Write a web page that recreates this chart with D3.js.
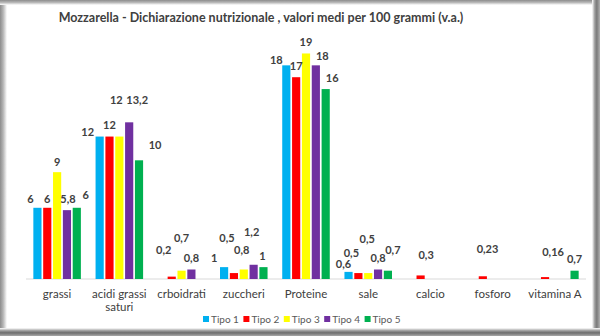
<!DOCTYPE html>
<html>
<head>
<meta charset="utf-8">
<script src="https://cdn.jsdelivr.net/npm/d3@7/dist/d3.min.js"></script>
<style>
  html, body { margin: 0; padding: 0; background: #fff; }
  svg { display: block; }
</style>
</head>
<body>
<svg id="chart" width="600" height="336"></svg>
<script>
// Nutrient categories (x axis)
const categories = ["grassi", "acidi grassi saturi", "crboidrati", "zuccheri", "Proteine",
                    "sale", "calcio", "fosforo", "vitamina A"];
const seriesNames = ["Tipo 1", "Tipo 2", "Tipo 3", "Tipo 4", "Tipo 5"];

// Values per 100 g, one array per type (null = not declared)
const tipo1 = [6, 12, null, 1, 18, 0.6, null, null, null];
const tipo2 = [6, 12, 0.2, 0.5, 17, 0.5, 0.3, 0.23, 0.16];
const tipo3 = [9, 12, 0.7, 0.8, 19, 0.5, null, null, null];
const tipo4 = [5.8, 13.2, 0.8, 1.2, 18, 0.8, null, null, null];
const tipo5 = [6, 10, null, 1, 16, 0.7, null, null, 0.7];
const seriesValues = [tipo1, tipo2, tipo3, tipo4, tipo5];

const colors = ["#00B0F0", "#FF0000", "#FFFF00", "#7030A0", "#00B050"];

// Hand-placed data label offsets [dx, dy] from each bar's top centre
const labelNudge = [
  [[-7, -9], [0, -9], [0, -10.5], [1, -11], [9, -12.5]],
  [[-12, -4], [0, -11], [-3, -36], [8, -22], [16, -15]],
  [[0, 0], [-8, -26], [0, -33], [0, -11], [0, 0]],
  [[-10, -9], [-7, -35], [-2, -19.5], [-2, -33], [-1, -10.5]],
  [[-10, -5.5], [0, -11.5], [0, -11], [6.5, -9.5], [6.5, -11]],
  [[-5, -7.5], [-7, -20], [-1, -34], [0, -11], [5, -21]],
  [[0, 0], [5.5, -20], [0, 0], [0, 0], [0, 0]],
  [[0, 0], [4.7, -27], [0, 0], [0, 0], [0, 0]],
  [[0, 0], [8, -25], [0, 0], [0, 0], [0, -11.5]]
];

const fmt = v => String(v).replace(".", ",");

const svg = d3.select("#chart");
const W = 600, H = 336;
const FONT = "Lato, 'Open Sans', sans-serif";

// Outer frame with soft shadow edges
const defs = svg.append("defs");
function grad(id, x1, y1, x2, y2, stops) {
  const g = defs.append("linearGradient").attr("id", id)
    .attr("x1", x1).attr("y1", y1).attr("x2", x2).attr("y2", y2);
  stops.forEach(s => g.append("stop").attr("offset", s[0]).attr("stop-color", s[1]));
}
grad("gl", 0, 0, 1, 0, [[0, "#8c8c8c"], [0.45, "#b5b5b5"], [1, "#ffffff"]]);
grad("gr", 0, 0, 1, 0, [[0, "#ffffff"], [0.35, "#9a9a9a"], [0.6, "#7a7a7a"], [1, "#b0b0b0"]]);
grad("gt", 0, 0, 0, 1, [[0, "#8c8c8c"], [0.5, "#b8b8b8"], [1, "#ffffff"]]);
grad("gb", 0, 0, 0, 1, [[0, "#ffffff"], [0.35, "#9a9a9a"], [0.6, "#6e6e6e"], [1, "#a8a8a8"]]);

svg.append("rect").attr("width", W).attr("height", H).attr("fill", "#fff");
svg.append("rect").attr("x", 0).attr("y", 0).attr("width", 7).attr("height", H).attr("fill", "url(#gl)");
svg.append("rect").attr("x", 0).attr("y", 0).attr("width", W).attr("height", 5).attr("fill", "url(#gt)");
svg.append("rect").attr("x", 592).attr("y", 0).attr("width", 8).attr("height", H).attr("fill", "url(#gr)");
svg.append("rect").attr("x", 0).attr("y", 328).attr("width", W).attr("height", 8).attr("fill", "url(#gb)");

// Title
svg.append("text")
  .attr("x", 261).attr("y", 22)
  .attr("text-anchor", "middle")
  .attr("font-family", FONT).attr("font-weight", "bold")
  .attr("font-size", 12.5).attr("fill", "#404040")
  .text("Mozzarella  - Dichiarazione nutrizionale , valori medi per 100 grammi (v.a.)");

// Scales
const x0 = d3.scaleBand().domain(categories).range([26, 586]).paddingInner(0.236).paddingOuter(0.118);
const x1 = d3.scaleBand().domain(d3.range(5)).range([0, x0.bandwidth()]).paddingInner(0.17);
const y = d3.scaleLinear().domain([0, 20]).range([279, 41.6]);

// Baseline
svg.append("line")
  .attr("x1", 26).attr("x2", 586).attr("y1", y(0)).attr("y2", y(0))
  .attr("stroke", "#d9d9d9").attr("stroke-width", 1);

const points = [];
categories.forEach((c, ci) => {
  seriesValues.forEach((arr, si) => {
    const v = arr[ci];
    if (v != null) points.push({ c, ci, si, v });
  });
});

// Bars
svg.append("g").selectAll("rect").data(points).join("rect")
  .attr("x", d => x0(d.c) + x1(d.si))
  .attr("y", d => y(d.v))
  .attr("width", x1.bandwidth())
  .attr("height", d => y(0) - y(d.v))
  .attr("fill", d => colors[d.si]);

// Data labels
svg.append("g").selectAll("text").data(points).join("text")
  .attr("x", d => x0(d.c) + x1(d.si) + x1.bandwidth() / 2 + labelNudge[d.ci][d.si][0])
  .attr("y", d => y(d.v) + labelNudge[d.ci][d.si][1])
  .attr("dy", "0.35em")
  .attr("text-anchor", "middle")
  .attr("font-family", FONT).attr("font-weight", "bold")
  .attr("font-size", 11).attr("fill", "#404040")
  .text(d => fmt(d.v));

// Category labels (wrapped onto two lines where needed)
const catLines = { "acidi grassi saturi": ["acidi grassi", "saturi"] };
const catG = svg.append("g");
categories.forEach(c => {
  const lines = catLines[c] || [c];
  const t = catG.append("text")
    .attr("x", x0(c) + x0.bandwidth() / 2)
    .attr("y", 298)
    .attr("text-anchor", "middle")
    .attr("font-family", FONT).attr("font-size", 11.5).attr("fill", "#404040");
  lines.forEach((l, i) => {
    t.append("tspan").attr("x", x0(c) + x0.bandwidth() / 2).attr("dy", i === 0 ? 0 : 13).text(l);
  });
});

// Legend
const legend = svg.append("g");
seriesNames.forEach((n, i) => {
  const lx = 206 + i * 40.4;
  legend.append("rect").attr("x", lx - 3).attr("y", 316).attr("width", 6).attr("height", 6)
    .attr("fill", colors[i]);
  legend.append("text").attr("x", lx + 5).attr("y", 319).attr("dy", "0.35em")
    .attr("font-family", FONT).attr("font-size", 10).attr("fill", "#595959").text(n);
});
</script>
</body>
</html>
